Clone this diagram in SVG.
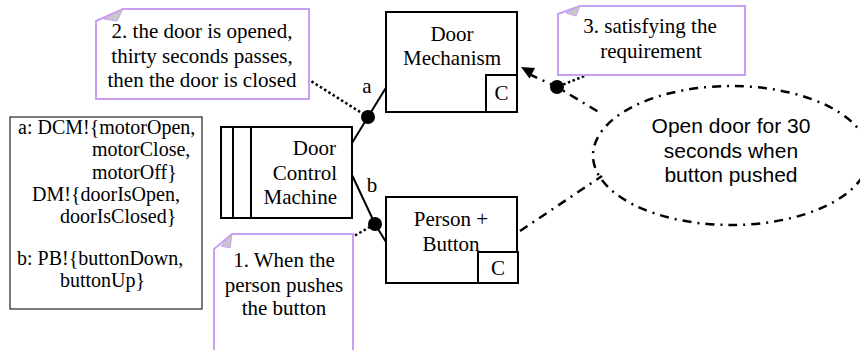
<svg xmlns="http://www.w3.org/2000/svg" width="860" height="350" viewBox="0 0 860 350">
<style>
.t{font-family:"Liberation Serif","Times New Roman",serif;font-size:21px;fill:#000}
.s{font-family:"Liberation Sans",Arial,sans-serif;font-size:21px;fill:#000}
.box{fill:#fff;stroke:#000;stroke-width:2}
.note{fill:#fff;stroke:#c8a0f2;stroke-width:2}
.fold{fill:#c8c8c8;stroke:#c8a0f2;stroke-width:1}
.dot{stroke:#000;stroke-width:2.5;stroke-dasharray:2.5 2.5;fill:none}
.dd{stroke:#000;stroke-width:2.5;stroke-dasharray:9 6 2 6;fill:none}
.ln{stroke:#000;stroke-width:2;fill:none}
.lg{font-family:"Liberation Serif","Times New Roman",serif;font-size:20px;fill:#000}
</style>
<rect width="860" height="350" fill="#fff"/>

<g id="legend">
<rect x="10" y="117" width="192" height="192" fill="#fff" stroke="#333" stroke-width="1.3"/>
<text class="lg" x="18" y="134">a: DCM!{motorOpen,</text>
<text class="lg" x="92" y="156.3">motorClose,</text>
<text class="lg" x="92" y="178.6">motorOff}</text>
<text class="lg" x="32" y="200.9">DM!{doorIsOpen,</text>
<text class="lg" x="60" y="223.2">doorIsClosed}</text>
<text class="lg" x="17" y="265">b: PB!{buttonDown,</text>
<text class="lg" x="60" y="287.3">buttonUp}</text>
</g>

<g id="connectors">
<line class="ln" x1="352" y1="143" x2="387" y2="86"/>
<polyline class="ln" points="352,175 375,224 386,242"/>
<line class="dot" x1="303" y1="76" x2="368" y2="117"/>
<line class="dot" x1="342" y1="243" x2="375" y2="224"/>
<line class="dot" x1="612" y1="65" x2="557" y2="87"/>
<polyline class="dd" points="529,74 557,87 602,114"/>
<line class="dd" x1="520" y1="231" x2="602" y2="176"/>
<polygon points="521,67 535,68 529.5,78.5" fill="#000"/>
<circle cx="368" cy="117" r="7" fill="#000"/>
<circle cx="375" cy="224" r="7" fill="#000"/>
<circle cx="557" cy="87" r="7" fill="#000"/>
<text class="t" x="367" y="93" text-anchor="middle">a</text>
<text class="t" x="372" y="192" text-anchor="middle">b</text>
</g>

<g id="door-control-machine">
<rect class="box" x="221" y="127" width="131" height="91"/>
<line class="ln" x1="233" y1="127" x2="233" y2="218"/>
<line class="ln" x1="251" y1="127" x2="251" y2="218"/>
<text class="t" x="336" y="155" text-anchor="end">Door</text>
<text class="t" x="337" y="180" text-anchor="end">Control</text>
<text class="t" x="337" y="204" text-anchor="end">Machine</text>
</g>

<g id="door-mechanism">
<rect class="box" x="386" y="12" width="131" height="100"/>
<rect class="box" x="486" y="75" width="31" height="37"/>
<text class="t" x="452" y="41" text-anchor="middle">Door</text>
<text class="t" x="452" y="65" text-anchor="middle">Mechanism</text>
<text class="t" x="501.5" y="100" text-anchor="middle">C</text>
</g>

<g id="person-button">
<rect class="box" x="386" y="197" width="131" height="86"/>
<rect class="box" x="478" y="252" width="40" height="31"/>
<text class="t" x="451" y="226" text-anchor="middle">Person +</text>
<text class="t" x="451" y="251" text-anchor="middle">Button</text>
<text class="t" x="498" y="275" text-anchor="middle">C</text>
</g>

<g id="requirement">
<ellipse cx="731" cy="155.5" rx="138" ry="69.5" fill="none" class="dd"/>
<text class="s" x="731" y="133" text-anchor="middle">Open door for 30</text>
<text class="s" x="731" y="158" text-anchor="middle">seconds when</text>
<text class="s" x="731" y="182" text-anchor="middle">button pushed</text>
</g>

<g id="note-2">
<path class="note" d="M96,21 L123,9 L309,9 L309,99 L96,99 Z"/>
<path class="fold" d="M104,19 L123,9 L117,21 Z"/>
<text class="t" x="202" y="38" text-anchor="middle">2. the door is opened,</text>
<text class="t" x="202" y="63" text-anchor="middle">thirty seconds passes,</text>
<text class="t" x="202" y="87" text-anchor="middle">then the door is closed</text>
</g>

<g id="note-3">
<path class="note" d="M558,14 L580,6 L745,6 L745,75 L558,75 Z"/>
<path class="fold" d="M566,13 L580,6 L576,16 Z"/>
<text class="t" x="650" y="33" text-anchor="middle">3. satisfying the</text>
<text class="t" x="651" y="58" text-anchor="middle">requirement</text>
</g>

<g id="note-1">
<path class="note" d="M214,249 L232,234 L353,234 L353,352 L214,352 Z"/>
<path class="fold" d="M221,246 L232,234 L230,248 Z"/>
<text class="t" x="284" y="267" text-anchor="middle">1. When the</text>
<text class="t" x="284" y="292" text-anchor="middle">person pushes</text>
<text class="t" x="284" y="315" text-anchor="middle">the button</text>
</g>
</svg>
